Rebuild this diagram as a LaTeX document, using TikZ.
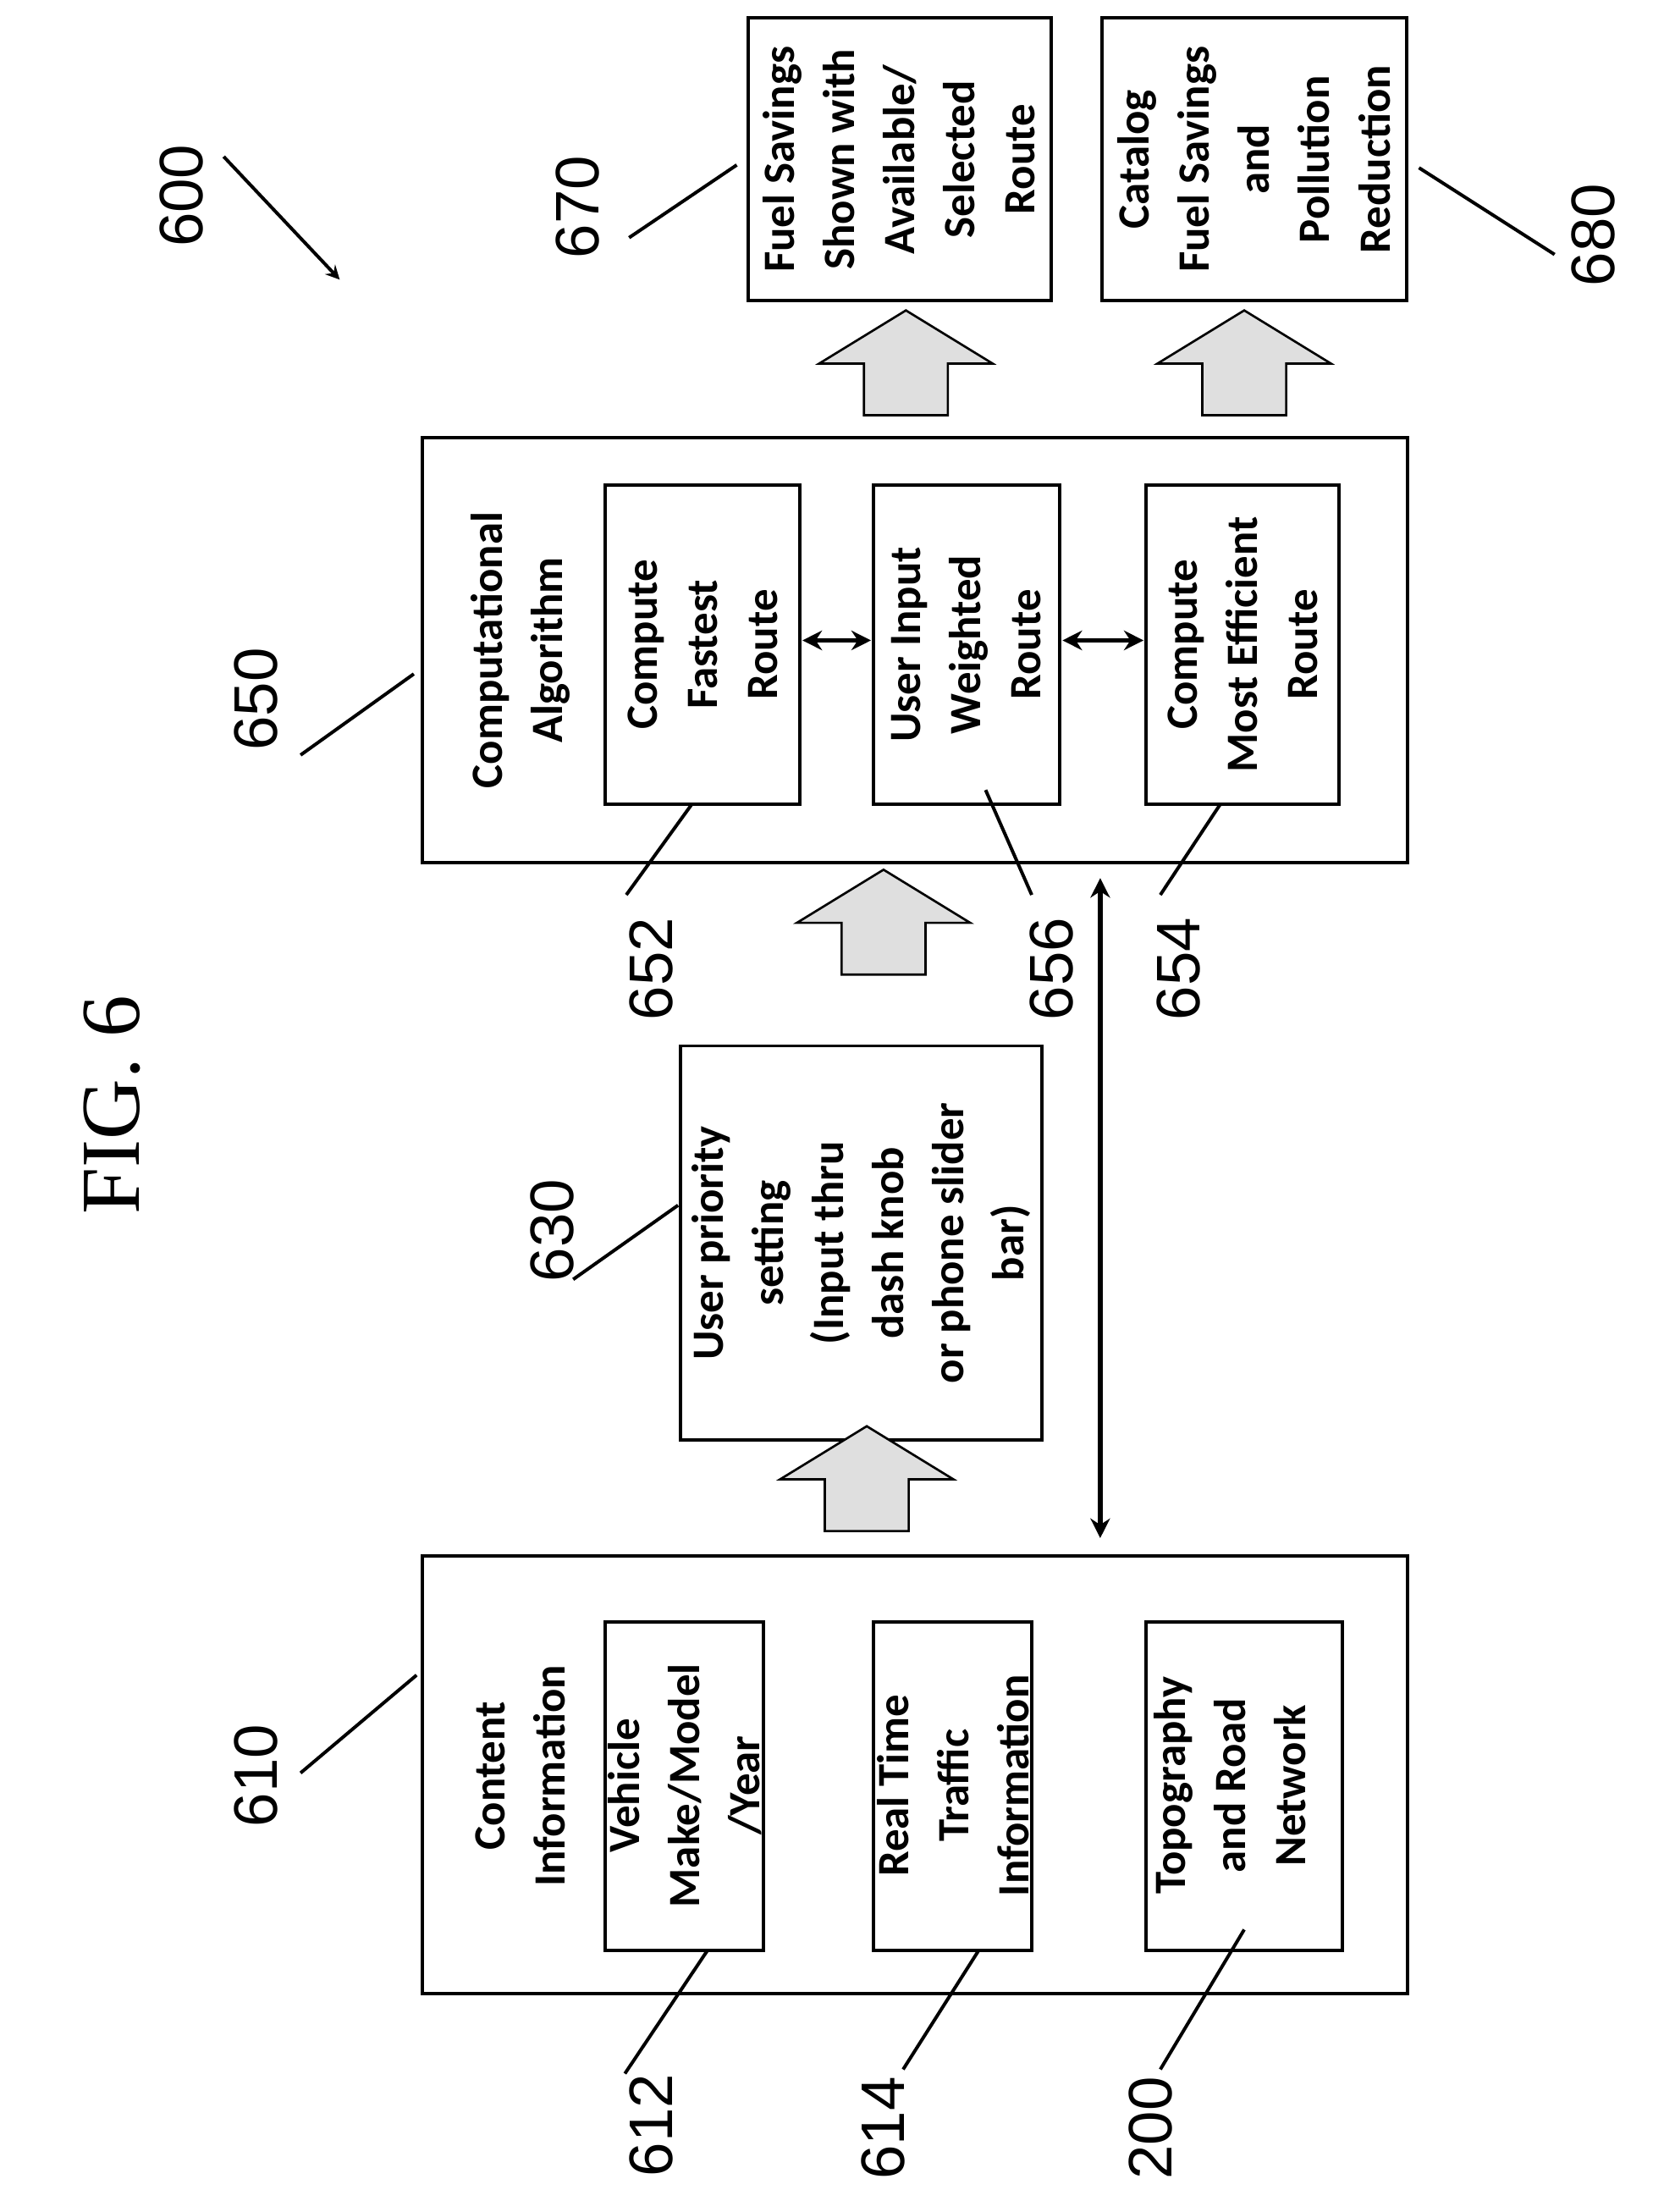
\documentclass[tikz,border=0pt]{standalone}
\usepackage{fontspec}
\setmainfont{Carlito}
\newfontfamily\numfont{Liberation Sans}
\newfontfamily\figfont{Liberation Serif}
\begin{document}
\begin{tikzpicture}[x=0.5pt,y=-0.5pt,
  box/.style={draw,line width=1.2pt},
  txt/.style={rotate=90,font=\bfseries\fontsize{16}{21.5}\selectfont,align=center},
  num/.style={rotate=90,font=\numfont\fontsize{22}{24}\selectfont},
  lead/.style={line width=1.2pt},
  dbl/.style={line width=1.8pt,<->,>={Stealth[length=7pt,width=7pt]}},
  blk/.style={draw,fill=gray!25,line width=0.8pt}]
\usetikzlibrary{arrows.meta}
\useasboundingbox (0,0) rectangle (1190,1582);
\tikzset{pics/uparr/.style={code={
  \path[blk] (-30,75) -- (-30,38) -- (-62,38) -- (0,0) -- (62,38) -- (30,38) -- (30,75) -- cycle;}}}
% 610
\draw[box] (302,1113) rectangle (1007,1426);
\node[txt] (t610) at (372,1270) {Content\\Information};
\draw[box] (433,1160) rectangle (546,1395); \node[txt] (t612) at (490,1277) {Vehicle\\Make/Model\\/Year};
\draw[box] (625,1160) rectangle (738,1395); \node[txt] (t614) at (682,1277) {Real Time\\Traffic\\Information};
\draw[box] (820,1160) rectangle (960,1395); \node[txt] (t200) at (880,1277) {Topography\\and Road\\Network};
% 630
\draw[box] (487,748) rectangle (745,1030);
\node[txt] (t630) at (616,889) {User priority\\setting\\(Input thru\\dash knob\\or phone slider\\bar)};
% 650
\draw[box] (302,313) rectangle (1007,617);
\node[txt] (t650) at (372,465) {Computational\\Algorithm};
\draw[box] (433,347) rectangle (572,575); \node[txt] (a) at (503,461) {Compute\\Fastest\\Route};
\draw[box] (625,347) rectangle (758,575); \node[txt] (b) at (691,461) {User Input\\Weighted\\Route};
\draw[box] (820,347) rectangle (958,575); \node[txt] (c) at (889,461) {Compute\\Most Efficient\\Route};
\coordinate (a1) at (574,458); \coordinate (b0) at (623,458);
\coordinate (b1) at (760,458); \coordinate (c0) at (818,458);
\draw[dbl] (a1) -- (b0); \draw[dbl] (b1) -- (c0);
% 670 680
\draw[box] (535,13) rectangle (752,215); \node[txt] (t670) at (643,114) {Fuel Savings\\Shown with\\Available/\\Selected\\Route};
\draw[box] (788,13) rectangle (1006,215); \node[txt] (t680) at (897,114) {Catalog\\Fuel Savings\\and\\Pollution\\Reduction};
% block arrows
\pic at (620,1020) {uparr};
\pic at (632,622) {uparr};
\pic at (648,222) {uparr};
\pic at (890,222) {uparr};
% long double arrow
\coordinate (d0) at (787,628); \coordinate (d1) at (787,1100);
\draw[dbl] (d0) -- (d1);
% labels
\node[num] (n610) at (183,1270) {610}; \draw[lead] (215,1268) -- (298,1198);
\node[num] (n612) at (466,1520) {612}; \draw[lead] (447,1483) -- (506,1395);
\node[num] (n614) at (632,1522) {614}; \draw[lead] (646,1480) -- (700,1395);
\node[num] (n200) at (823,1522) {200}; \draw[lead] (830,1480) -- (890,1380);
\node[num] (n630) at (395,880) {630}; \draw[lead] (410,915) -- (485,862);
\node[num] (n650) at (183,500) {650}; \draw[lead] (215,540) -- (296,482);
\node[num] (n652) at (466,693) {652}; \draw[lead] (448,640) -- (495,575);
\node[num] (n656) at (752,693) {656}; \draw[lead] (738,640) -- (705,565);
\node[num] (n654) at (843,693) {654}; \draw[lead] (830,640) -- (873,575);
\node[num] (n670) at (413,148) {670}; \draw[lead] (450,170) -- (527,118);
\node[num] (n680) at (1140,168) {680}; \draw[lead] (1112,182) -- (1015,120);
\node[num] (n600) at (130,140) {600};
\coordinate (p0) at (160,112); \coordinate (p1) at (243,200);
\draw[lead,->,>=stealth] (p0) -- (p1);
\node[rotate=90,font=\figfont\fontsize{30}{34}\selectfont] (fig) at (80,790) {FIG. 6};
\end{tikzpicture}
\end{document}
